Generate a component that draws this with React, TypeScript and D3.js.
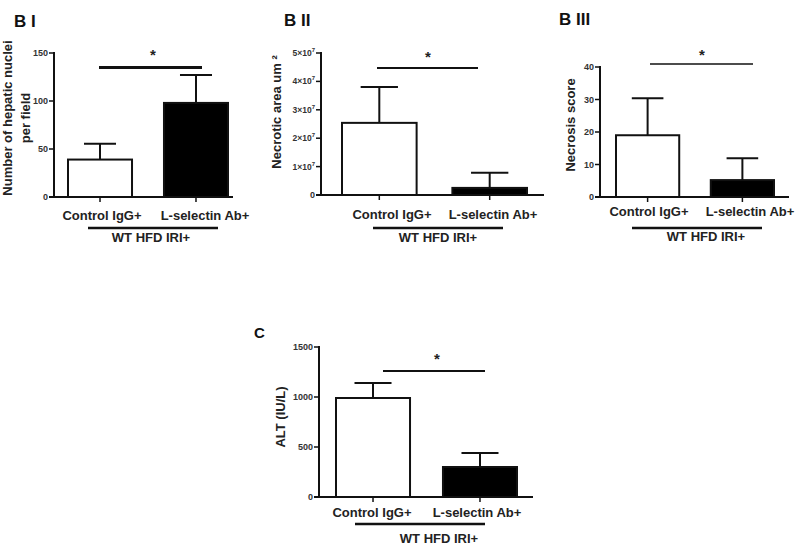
import React, { useEffect } from 'react';
import * as d3 from 'd3';

// groups shared by every panel
const categories = ['Control IgG+', 'L-selectin Ab+'];
const groupLabel = 'WT HFD IRI+';

// B I: hepatic nuclei per field
const nucleiMean = [39, 98];
const nucleiErr = [16.5, 29];
const nucleiTicks = [0, 50, 100, 150];

// B II: necrotic area (um^2)
const areaMean = [2.54e7, 0.25e7];
const areaErr = [1.26e7, 0.53e7];
const areaTicks = [0, 1e7, 2e7, 3e7, 4e7, 5e7];

// B III: necrosis score
const scoreMean = [19, 5.2];
const scoreErr = [11.4, 6.7];
const scoreTicks = [0, 10, 20, 30, 40];

// C: ALT (IU/L)
const altMean = [990, 300];
const altErr = [150, 140];
const altTicks = [0, 500, 1000, 1500];

const FONT = '"Liberation Sans", Arial, Helvetica, sans-serif';

interface PanelSpec {
  title: string;
  titleX: number;
  titleY: number;
  titleSize: number;
  yLabel: string[];
  yLabelX: number[];
  yLabelY: number;
  means: number[];
  errs: number[];
  ticks: number[];
  sci?: boolean;
  left: number;
  right: number;
  top: number;
  bottom: number;
  barStart: number;
  barEnd: number;
  padInner: number;
  sig: { x1: number; x2: number; value: number; w: number };
  star: { x: number; y: number };
  labelX: number[];
  labelY: number;
  group: { x1: number; x2: number; y: number };
  groupText: { x: number; y: number };
}

const panels: PanelSpec[] = [
  {
    title: 'B I', titleX: 14, titleY: 27, titleSize: 17,
    yLabel: ['Number of hepatic nuclei', 'per field'], yLabelX: [12, 30], yLabelY: 118,
    means: nucleiMean, errs: nucleiErr, ticks: nucleiTicks,
    left: 54, right: 233, top: 53, bottom: 197,
    barStart: 68, barEnd: 228, padInner: 0.333,
    sig: { x1: 99, x2: 202, value: 135, w: 3 },
    star: { x: 153, y: 53 },
    labelX: [102, 205], labelY: 220,
    group: { x1: 88, x2: 218, y: 228 },
    groupText: { x: 151, y: 242 },
  },
  {
    title: 'B II', titleX: 284, titleY: 26, titleSize: 17,
    yLabel: ['Necrotic area um \u00B2'], yLabelX: [281], yLabelY: 112,
    means: areaMean, errs: areaErr, ticks: areaTicks, sci: true,
    left: 321, right: 544, top: 53, bottom: 195,
    barStart: 342, barEnd: 527, padInner: 0.324,
    sig: { x1: 377, x2: 478, value: 4.47e7, w: 2 },
    star: { x: 428, y: 55 },
    labelX: [392, 493], labelY: 219,
    group: { x1: 373, x2: 503, y: 228 },
    groupText: { x: 438, y: 242 },
  },
  {
    title: 'B III', titleX: 559, titleY: 25, titleSize: 17,
    yLabel: ['Necrosis score'], yLabelX: [575], yLabelY: 125,
    means: scoreMean, errs: scoreErr, ticks: scoreTicks,
    left: 600, right: 789, top: 67, bottom: 197,
    barStart: 616, barEnd: 774, padInner: 0.333,
    sig: { x1: 650, x2: 753, value: 40.9, w: 1.5 },
    star: { x: 702, y: 53 },
    labelX: [649, 750], labelY: 216,
    group: { x1: 632, x2: 762, y: 228 },
    groupText: { x: 706, y: 241 },
  },
  {
    title: 'C', titleX: 254, titleY: 338, titleSize: 15,
    yLabel: ['ALT (IU/L)'], yLabelX: [285], yLabelY: 417,
    means: altMean, errs: altErr, ticks: altTicks,
    left: 319, right: 533, top: 347, bottom: 497,
    barStart: 336, barEnd: 517, padInner: 0.308,
    sig: { x1: 383, x2: 485, value: 1260, w: 2 },
    star: { x: 437, y: 357 },
    labelX: [372, 477], labelY: 517,
    group: { x1: 355, x2: 485, y: 524 },
    groupText: { x: 439, y: 543 },
  },
];

const TickLabel: React.FC<{ v: number; sci?: boolean; x: number; y: number }> = ({ v, sci, x, y }) => {
  if (sci && v !== 0) {
    const exp = Math.floor(Math.log10(v));
    const mant = v / Math.pow(10, exp);
    return (
      <text x={x} y={y} dy="0.35em" textAnchor="end" fontSize={8.5} fill="#333" fontWeight="bold">
        {`${mant}\u00D710`}
        <tspan fontSize={6} dy={-4}>{exp}</tspan>
      </text>
    );
  }
  return (
    <text x={x} y={y} dy="0.35em" textAnchor="end" fontSize={9} fill="#333" fontWeight="bold">
      {v}
    </text>
  );
};

const Panel: React.FC<{ p: PanelSpec }> = ({ p }) => {
  const y = d3.scaleLinear()
    .domain([0, p.ticks[p.ticks.length - 1]])
    .range([p.bottom, p.top]);
  const x = d3.scaleBand<string>()
    .domain(categories)
    .range([p.barStart, p.barEnd])
    .paddingInner(p.padInner)
    .paddingOuter(0);
  const bw = x.bandwidth();
  const capW = bw * 0.5;

  return (
    <g>
      <text x={p.titleX} y={p.titleY} fontSize={p.titleSize} fontWeight="bold" fill="#111">{p.title}</text>

      {/* y label */}
      {p.yLabel.map((t, i) => (
        <text key={t} transform={`translate(${p.yLabelX[i]},${p.yLabelY}) rotate(-90)`}
          textAnchor="middle" fontSize={13} fontWeight="bold" fill="#222">{t}</text>
      ))}

      {/* bars */}
      {categories.map((c, i) => {
        const bx = x(c)!;
        const cx = bx + bw / 2;
        const top = y(p.means[i] + p.errs[i]);
        return (
          <g key={c}>
            <line x1={cx} x2={cx} y1={y(p.means[i])} y2={top} stroke="#111" strokeWidth={2} />
            <line x1={cx - capW / 2} x2={cx + capW / 2} y1={top} y2={top} stroke="#111" strokeWidth={2} />
            <rect x={bx} y={y(p.means[i])} width={bw} height={p.bottom - y(p.means[i])}
              fill={i === 0 ? '#fff' : '#000'} stroke="#111" strokeWidth={2} />
            <line x1={cx} x2={cx} y1={p.bottom} y2={p.bottom + 5} stroke="#111" strokeWidth={1.5} />
            <text x={p.labelX[i]} y={p.labelY} textAnchor="middle" fontSize={13} fontWeight="bold" fill="#222">{c}</text>
          </g>
        );
      })}

      {/* axes */}
      <line x1={p.left} x2={p.left} y1={p.top - 1} y2={p.bottom + 1} stroke="#111" strokeWidth={2} />
      <line x1={p.left - 5} x2={p.right} y1={p.bottom} y2={p.bottom} stroke="#111" strokeWidth={2} />
      {p.ticks.map(t => (
        <g key={t}>
          <line x1={p.left - 5} x2={p.left} y1={y(t)} y2={y(t)} stroke="#111" strokeWidth={1.5} />
          <TickLabel v={t} sci={p.sci} x={p.left - 6} y={y(t)} />
        </g>
      ))}

      {/* significance */}
      <line x1={p.sig.x1} x2={p.sig.x2} y1={y(p.sig.value)} y2={y(p.sig.value)} stroke="#111" strokeWidth={p.sig.w} />
      <text x={p.star.x} y={p.star.y + 7} textAnchor="middle" fontSize={15} fontWeight="bold" fill="#222">*</text>

      {/* group */}
      <line x1={p.group.x1} x2={p.group.x2} y1={p.group.y} y2={p.group.y} stroke="#111" strokeWidth={2.5} />
      <text x={p.groupText.x} y={p.groupText.y} textAnchor="middle" fontSize={13} fontWeight="bold" fill="#222">{groupLabel}</text>
    </g>
  );
};

export default function App() {
  useEffect(() => {
    document.body.style.margin = '0';
  }, []);

  return (
    <svg width={800} height={547} style={{ display: 'block', background: '#fff', fontFamily: FONT }}>
      <rect width={800} height={547} fill="#fff" />
      {panels.map(p => <Panel key={p.title} p={p} />)}
    </svg>
  );
}
